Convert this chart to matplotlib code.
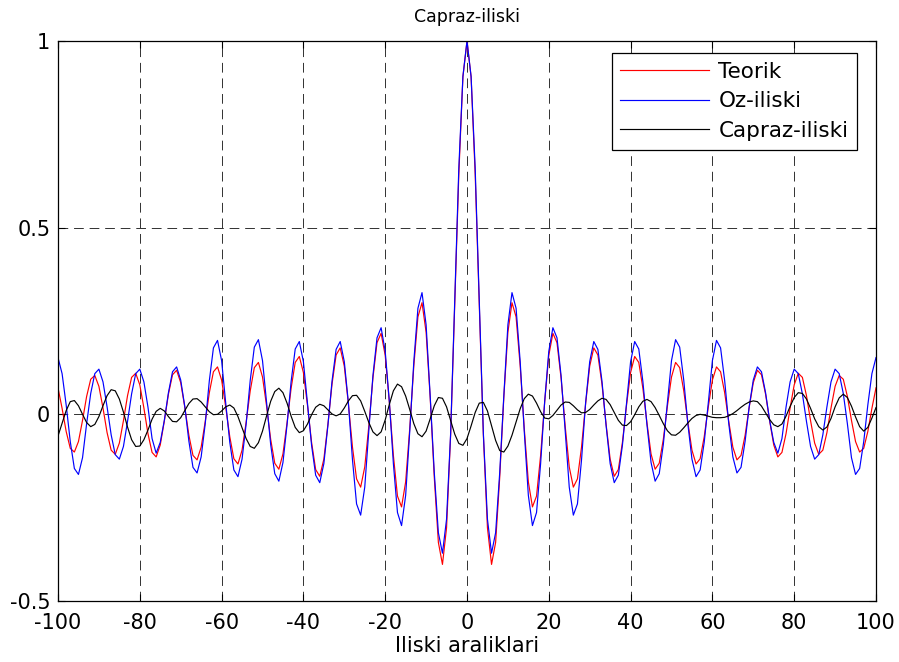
import matplotlib
matplotlib.use("Agg")
import matplotlib.pyplot as plt

plt.rcParams['font.family'] = ['DejaVu Sans']

# Lag axis
lags = list(range(-100, 101))

# Theoretical correlation (symmetric about lag 0)
teorik = [
    0.071, 0.016, -0.046, -0.091, -0.101, -0.073, -0.016, 0.048, 0.094, 0.104,
    0.075, 0.017, -0.049, -0.096, -0.107, -0.077, -0.017, 0.050, 0.099, 0.110,
    0.079, 0.017, -0.052, -0.102, -0.114, -0.082, -0.018, 0.054, 0.106, 0.118,
    0.085, 0.019, -0.056, -0.110, -0.122, -0.088, -0.019, 0.058, 0.114, 0.127,
    0.092, 0.020, -0.060, -0.119, -0.133, -0.096, -0.021, 0.063, 0.125, 0.139,
    0.100, 0.022, -0.067, -0.131, -0.147, -0.106, -0.023, 0.070, 0.139, 0.155,
    0.112, 0.024, -0.075, -0.148, -0.166, -0.120, -0.026, 0.081, 0.159, 0.178,
    0.129, 0.028, -0.088, -0.173, -0.195, -0.141, -0.031, 0.097, 0.192, 0.217,
    0.158, 0.034, -0.110, -0.219, -0.248, -0.181, -0.038, 0.130, 0.261, 0.299,
    0.220, 0.045, -0.169, -0.343, -0.402, -0.304, -0.055, 0.291, 0.643, 0.904,
    1.000,
    0.904, 0.643, 0.291, -0.055, -0.304, -0.402, -0.343, -0.169, 0.045, 0.220,
    0.299, 0.261, 0.130, -0.038, -0.181, -0.248, -0.219, -0.110, 0.034, 0.158,
    0.217, 0.192, 0.097, -0.031, -0.141, -0.195, -0.173, -0.088, 0.028, 0.129,
    0.178, 0.159, 0.081, -0.026, -0.120, -0.166, -0.148, -0.075, 0.024, 0.112,
    0.155, 0.139, 0.070, -0.023, -0.106, -0.147, -0.131, -0.067, 0.022, 0.100,
    0.139, 0.125, 0.063, -0.021, -0.096, -0.133, -0.119, -0.060, 0.020, 0.092,
    0.127, 0.114, 0.058, -0.019, -0.088, -0.122, -0.110, -0.056, 0.019, 0.085,
    0.118, 0.106, 0.054, -0.018, -0.082, -0.114, -0.102, -0.052, 0.017, 0.079,
    0.110, 0.099, 0.050, -0.017, -0.077, -0.107, -0.096, -0.049, 0.017, 0.075,
    0.104, 0.094, 0.048, -0.016, -0.073, -0.101, -0.091, -0.046, 0.016, 0.071,
]

# Estimated autocorrelation
oz_iliski = [
    0.152, 0.109, 0.025, -0.073, -0.145, -0.161, -0.116, -0.025, 0.056, 0.109,
    0.121, 0.087, 0.020, -0.055, -0.108, -0.120, -0.086, -0.019, 0.055, 0.109,
    0.121, 0.087, 0.019, -0.065, -0.104, -0.075, -0.016, 0.058, 0.114, 0.127,
    0.092, 0.021, -0.072, -0.142, -0.157, -0.114, -0.025, 0.090, 0.178, 0.198,
    0.144, 0.031, -0.075, -0.149, -0.167, -0.120, -0.026, 0.091, 0.180, 0.200,
    0.144, 0.032, -0.081, -0.159, -0.179, -0.129, -0.028, 0.088, 0.175, 0.195,
    0.141, 0.030, -0.083, -0.163, -0.183, -0.132, -0.029, 0.089, 0.174, 0.195,
    0.141, 0.031, -0.122, -0.240, -0.270, -0.195, -0.043, 0.104, 0.205, 0.232,
    0.169, 0.036, -0.132, -0.263, -0.298, -0.217, -0.046, 0.142, 0.284, 0.326,
    0.240, 0.049, -0.156, -0.317, -0.372, -0.281, -0.051, 0.300, 0.660, 0.905,
    1.000,
    0.905, 0.660, 0.300, -0.051, -0.281, -0.372, -0.317, -0.156, 0.049, 0.240,
    0.326, 0.284, 0.142, -0.046, -0.217, -0.298, -0.263, -0.132, 0.036, 0.169,
    0.232, 0.205, 0.104, -0.043, -0.195, -0.270, -0.240, -0.122, 0.031, 0.141,
    0.195, 0.174, 0.089, -0.029, -0.132, -0.183, -0.163, -0.083, 0.030, 0.141,
    0.195, 0.175, 0.088, -0.028, -0.129, -0.179, -0.159, -0.081, 0.032, 0.144,
    0.200, 0.180, 0.091, -0.026, -0.120, -0.167, -0.149, -0.075, 0.031, 0.144,
    0.198, 0.178, 0.090, -0.025, -0.114, -0.157, -0.142, -0.072, 0.021, 0.092,
    0.127, 0.114, 0.058, -0.016, -0.075, -0.104, -0.065, 0.019, 0.087, 0.121,
    0.109, 0.055, -0.019, -0.086, -0.120, -0.108, -0.055, 0.020, 0.087, 0.121,
    0.109, 0.056, -0.025, -0.116, -0.161, -0.145, -0.073, 0.025, 0.109, 0.152,
]

# Estimated cross-correlation
capraz_iliski = [
    -0.058, -0.024, 0.010, 0.034, 0.037, 0.023, 0.000, -0.022, -0.033, -0.027,
    -0.006, 0.023, 0.050, 0.066, 0.063, 0.041, 0.006, -0.034, -0.068, -0.086,
    -0.085, -0.068, -0.042, -0.013, 0.008, 0.016, 0.009, -0.006, -0.019, -0.020,
    -0.009, 0.010, 0.029, 0.041, 0.042, 0.033, 0.020, 0.007, -0.001, 0.000,
    0.009, 0.020, 0.025, 0.017, -0.006, -0.036, -0.065, -0.086, -0.091, -0.076,
    -0.045, -0.004, 0.035, 0.061, 0.070, 0.058, 0.030, -0.005, -0.035, -0.049,
    -0.044, -0.026, -0.001, 0.019, 0.027, 0.023, 0.012, 0.001, -0.004, 0.001,
    0.017, 0.036, 0.050, 0.051, 0.036, 0.008, -0.022, -0.047, -0.057, -0.047,
    -0.015, 0.026, 0.063, 0.081, 0.074, 0.049, 0.013, -0.025, -0.052, -0.060,
    -0.045, -0.012, 0.023, 0.045, 0.043, 0.020, -0.017, -0.053, -0.078, -0.083,
    -0.065,
    -0.031, 0.005, 0.030, 0.032, 0.009, -0.030, -0.070, -0.097, -0.101, -0.085,
    -0.056, -0.020, 0.015, 0.042, 0.054, 0.049, 0.030, 0.007, -0.010, -0.012,
    -0.003, 0.011, 0.025, 0.033, 0.032, 0.023, 0.012, 0.004, 0.005, 0.013,
    0.025, 0.036, 0.043, 0.040, 0.026, 0.005, -0.016, -0.029, -0.030, -0.020,
    -0.001, 0.020, 0.035, 0.040, 0.034, 0.018, -0.003, -0.025, -0.044, -0.055,
    -0.056, -0.048, -0.036, -0.023, -0.011, -0.003, 0.000, -0.002, -0.005, -0.008,
    -0.009, -0.009, -0.008, -0.004, 0.002, 0.010, 0.019, 0.027, 0.033, 0.036,
    0.034, 0.022, 0.004, -0.014, -0.028, -0.033, -0.026, -0.005, 0.021, 0.045,
    0.058, 0.056, 0.041, 0.016, -0.012, -0.033, -0.042, -0.034, -0.011, 0.020,
    0.044, 0.054, 0.045, 0.022, -0.007, -0.033, -0.045, -0.035, -0.010, 0.018,
]

x_ticks = [-100, -80, -60, -40, -20, 0, 20, 40, 60, 80, 100]
y_ticks = [-0.5, 0, 0.5, 1]
y_tick_labels = ['-0.5', '0', '0.5', '1']

fig = plt.figure(figsize=(8.99, 6.62), dpi=100)
ax = fig.add_axes([58 / 899, 1 - 601 / 662, 818 / 899, 560 / 662])

ax.plot(lags, teorik, color='#ff0000', lw=0.85, label='Teorik')
ax.plot(lags, oz_iliski, color='#0000ff', lw=0.85, label='Oz-iliski')
ax.plot(lags, capraz_iliski, color='black', lw=0.85, label='Capraz-iliski')

ax.set_xlim(-100, 100)
ax.set_ylim(-0.5, 1)
ax.set_xticks(x_ticks)
ax.set_xticklabels([str(t) for t in x_ticks])
ax.set_yticks(y_ticks)
ax.set_yticklabels(y_tick_labels)

ax.grid(True, color='#303030', lw=0.7, linestyle=(0, (10, 6)))
ax.set_axisbelow(True)

ax.tick_params(direction='in', top=True, right=True, length=5, width=0.8,
               labelsize=15)
ax.tick_params(axis='x', pad=8.5)
ax.tick_params(axis='y', pad=5.5)
for s in ax.spines.values():
    s.set_linewidth(0.9)
    s.set_color('black')

ax.set_title('Capraz-iliski', fontsize=12.5, pad=14)
ax.set_xlabel('Iliski araliklari', fontsize=15, labelpad=2)

leg = ax.legend(loc='upper right', bbox_to_anchor=(0.9768, 0.9786),
                borderaxespad=0, fancybox=False, framealpha=1,
                edgecolor='black', fontsize=15.5, handlelength=4.1,
                handletextpad=0.45, labelspacing=0.45, borderpad=0.4)
leg.get_frame().set_linewidth(0.9)

fig.savefig('out.png', dpi=100)
